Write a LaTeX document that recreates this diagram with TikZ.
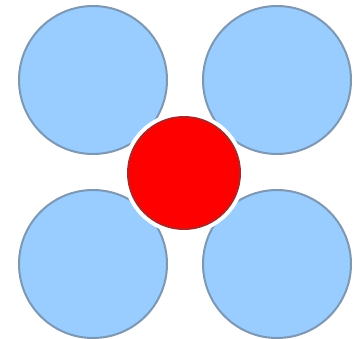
\documentclass[tikz,border=0pt]{standalone}
\usepackage{tikz}
\usetikzlibrary{positioning}

\begin{document}
\begin{tikzpicture}[x=1pt,y=-1pt]
\definecolor{petal}{RGB}{153,204,255}
\definecolor{petaledge}{RGB}{125,152,178}
\definecolor{core}{RGB}{255,0,0}
\definecolor{coreedge}{RGB}{180,35,35}
\tikzset{
  petal/.style={circle, draw=petaledge, fill=petal, line width=2pt, minimum size=148pt, inner sep=0pt},
  core/.style={circle, draw=coreedge, fill=core, line width=2pt, minimum size=112pt, inner sep=0pt}
}

% Frame
\useasboundingbox (0,0) rectangle (356,338);

% Outer circles
\node[petal] (tl) at (93,80) {};
\node[petal] (tr) at (277,80) {};
\node[petal] (bl) at (93,264) {};
\node[petal] (br) at (277,264) {};

% Centre circle
\fill[white] (184,173) circle (61);
\node[core] (c) at (184,173) {};

\end{tikzpicture}
\end{document}
